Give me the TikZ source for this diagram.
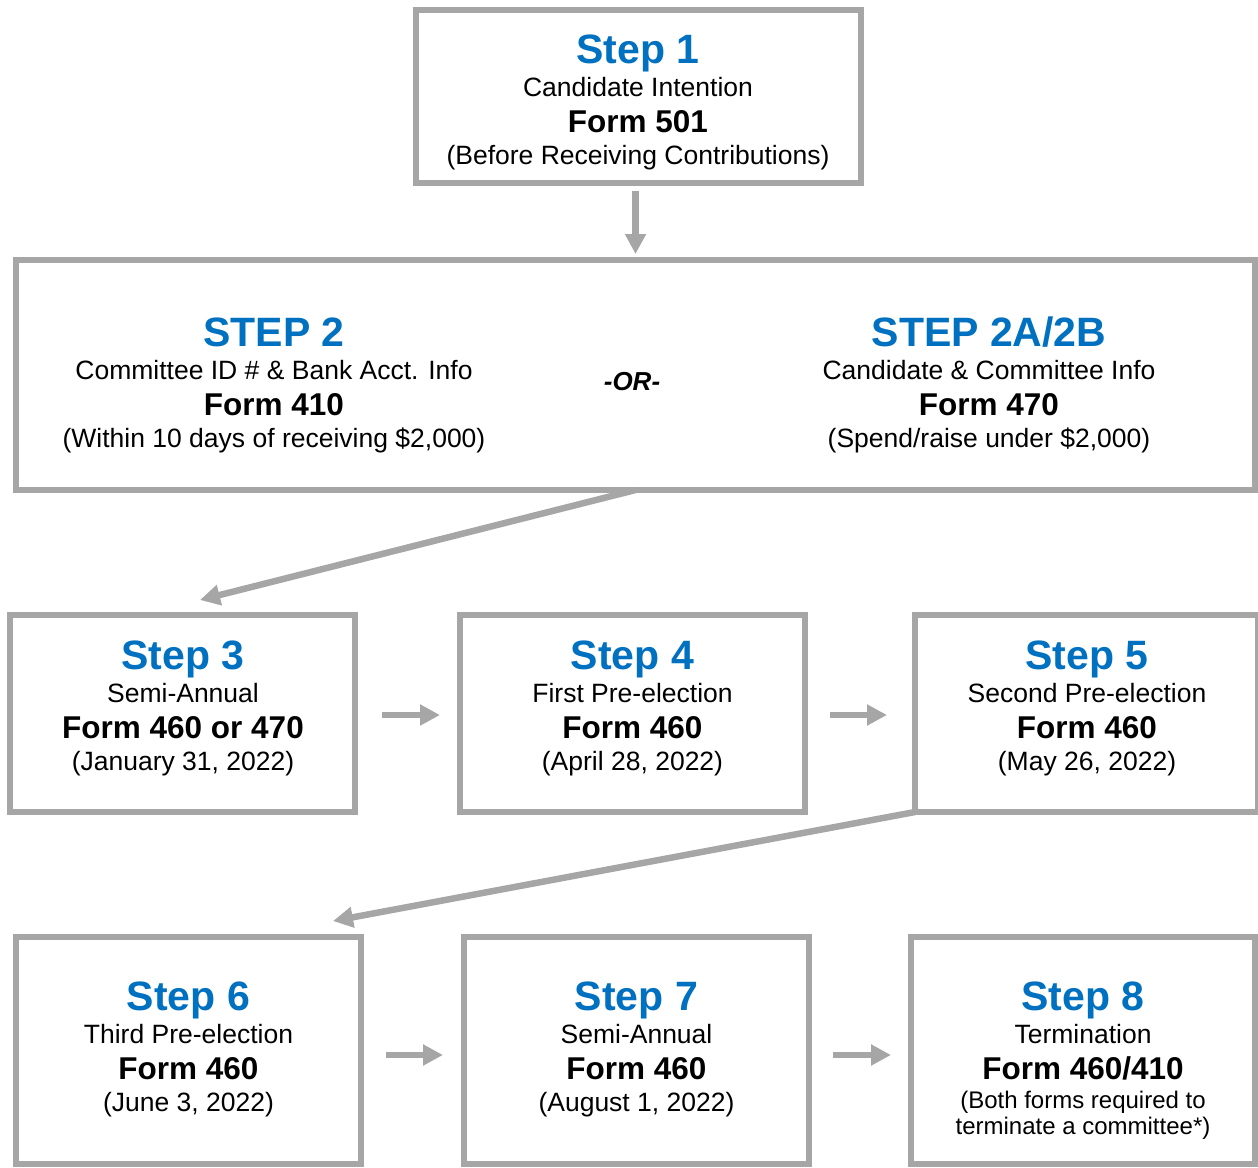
\documentclass[tikz,border=0pt]{standalone}
\usepackage{fontspec}
\setmainfont{Liberation Sans}
\usetikzlibrary{arrows.meta}
\definecolor{lg}{HTML}{A6A6A6}
\definecolor{sb}{HTML}{0070C0}
\newcommand\steplines[7]{%
  \node[ttl] (#1t) at (#2,#3) {#4};
  \node[sub] (#1s) at (#2,#3+33) {#5};
  \node[frm] (#1f) at (#2,#3+69) {#6};
  \node[sml] (#1d) at (#2,#3+101) {#7};
}
\begin{document}
\begin{tikzpicture}[x=1pt,y=-1pt,
 box/.style={draw=lg, line width=6pt, fill=white, inner sep=0pt, outer sep=0pt},
 arr/.style={draw=lg, line width=6.5pt, -{Triangle[length=20pt,width=20pt]}},
 ttl/.style={anchor=base, inner sep=0pt, text=sb, font=\bfseries\fontsize{41}{41}\selectfont},
 sub/.style={anchor=base, inner sep=0pt, font=\fontsize{26.5}{26.5}\selectfont},
 frm/.style={anchor=base, inner sep=0pt, font=\bfseries\fontsize{31.5}{31.5}\selectfont},
 sml/.style={anchor=base, inner sep=0pt, font=\fontsize{26.5}{26.5}\selectfont},
 tiny/.style={anchor=base, inner sep=0pt, font=\fontsize{24}{24}\selectfont},
]
\useasboundingbox (0,0) rectangle (1258,1167);
\clip (0,0) rectangle (1258,1167);
% boxes
\node[box, minimum width=445pt, minimum height=173pt] (b1) at (638.5,96.5) {};
\node[box, minimum width=1239pt, minimum height=230pt] (b2) at (635.5,375) {};
\node[box, minimum width=345pt, minimum height=197pt] (b3) at (182.5,713.5) {};
\node[box, minimum width=345pt, minimum height=197pt] (b4) at (632.5,713.5) {};
\node[box, minimum width=343pt, minimum height=197pt] (b5) at (1086.5,713.5) {};
\node[box, minimum width=345pt, minimum height=227pt] (b6) at (188.5,1050.5) {};
\node[box, minimum width=345pt, minimum height=227pt] (b7) at (636.5,1050.5) {};
\node[box, minimum width=344pt, minimum height=227pt] (b8) at (1083,1050.5) {};
% texts
\steplines{s1}{638}{63}{Step 1}{Candidate Intention}{Form 501}{(Before Receiving Contributions)}
\steplines{s2}{274}{346}{STEP 2}{Committee ID \# \& Bank Acct. Info}{Form 410}{(Within 10 days of receiving \$2,000)}
\steplines{s2b}{989}{346}{STEP 2A/2B}{Candidate \& Committee Info}{Form 470}{(Spend/raise under \$2,000)}
\node[anchor=base, inner sep=0pt, font=\bfseries\itshape\fontsize{26}{26}\selectfont] (or) at (632,390) {-OR-};
\steplines{s3}{183}{669}{Step 3}{Semi-Annual}{Form 460 or 470}{(January 31, 2022)}
\steplines{s4}{632.5}{669}{Step 4}{First Pre-election}{Form 460}{(April 28, 2022)}
\steplines{s5}{1087}{669}{Step 5}{Second Pre-election}{Form 460}{(May 26, 2022)}
\steplines{s6}{188.5}{1010}{Step 6}{Third Pre-election}{Form 460}{(June 3, 2022)}
\steplines{s7}{636.5}{1010}{Step 7}{Semi-Annual}{Form 460}{(August 1, 2022)}
\node[ttl] (s8t) at (1083,1010) {Step 8};
\node[sub] (s8s) at (1083,1043) {Termination};
\node[frm] (s8f) at (1083,1079) {Form 460/410};
\node[tiny] (s8d) at (1083,1108) {(Both forms required to};
\node[tiny] (s8e) at (1083,1134) {terminate a committee*)};
% arrows
\draw[arr, shorten <=8pt, shorten >=6pt] (b2.north |- b1.south) -- (b2.north);
\draw[arr] (b2.south) -- ([shift={(17.5,-15)}]b3.north);
\draw[arr, shorten <=27pt, shorten >=20pt] ([yshift=-1.5pt]b3.east) -- ([yshift=-1.5pt]b4.west);
\draw[arr, shorten <=25pt, shorten >=28pt] ([yshift=-1.5pt]b4.east) -- ([yshift=-1.5pt]b5.west);
\draw[arr] (b5.south west) -- ([shift={(-28,-16)}]b6.north east);
\draw[arr, shorten <=25pt, shorten >=21pt] ([yshift=-4.5pt]b6.east) -- ([yshift=-4.5pt]b7.west);
\draw[arr, shorten <=24pt, shorten >=20pt] ([yshift=-4.5pt]b7.east) -- ([yshift=-4.5pt]b8.west);
\end{tikzpicture}
\end{document}
